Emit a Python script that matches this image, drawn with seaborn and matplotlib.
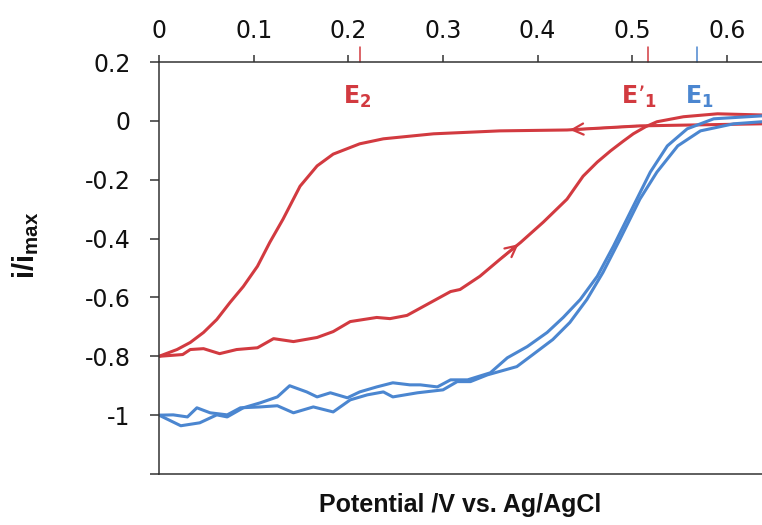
import matplotlib
matplotlib.use('Agg')
import matplotlib.pyplot as plt
import pandas as pd
import seaborn as sns

RED = '#D23A40'
BLUE = '#4B86D0'

# red curve, forward scan (lower branch, arrow up-right)
red_fwd_x = [0.0, 0.025, 0.033, 0.047, 0.064, 0.082, 0.104, 0.121, 0.142, 0.167,
             0.184, 0.202, 0.230, 0.244, 0.262, 0.283, 0.308, 0.318, 0.339, 0.360,
             0.382, 0.406, 0.431, 0.448, 0.463, 0.477, 0.490, 0.501, 0.514, 0.526,
             0.554, 0.590, 0.637, 0.66]
red_fwd_y = [-0.80, -0.794, -0.777, -0.774, -0.791, -0.777, -0.771, -0.740, -0.750, -0.736,
             -0.716, -0.682, -0.668, -0.672, -0.661, -0.624, -0.580, -0.573, -0.528, -0.471,
             -0.413, -0.344, -0.266, -0.188, -0.140, -0.102, -0.070, -0.044, -0.020, -0.003,
             0.014, 0.024, 0.020, 0.018]

# red curve, return scan (flat top, then falls at E2)
red_rev_x = [0.66, 0.637, 0.508, 0.431, 0.360, 0.290, 0.237, 0.212, 0.184, 0.167,
             0.149, 0.131, 0.117, 0.104, 0.089, 0.075, 0.061, 0.047, 0.033, 0.019, 0.0]
red_rev_y = [-0.008, -0.010, -0.017, -0.031, -0.034, -0.044, -0.061, -0.078, -0.113, -0.153,
             -0.222, -0.334, -0.413, -0.494, -0.563, -0.617, -0.675, -0.719, -0.753, -0.777, -0.80]

# blue curves (two sweeps)
blue_a_x = [0.0, 0.023, 0.043, 0.061, 0.072, 0.089, 0.107, 0.125, 0.138, 0.156,
            0.167, 0.181, 0.199, 0.212, 0.230, 0.247, 0.265, 0.276, 0.294, 0.308,
            0.326, 0.350, 0.368, 0.389, 0.410, 0.427, 0.445, 0.463, 0.480, 0.501,
            0.519, 0.537, 0.558, 0.586, 0.637, 0.66]
blue_a_y = [-1.0, -1.036, -1.026, -0.999, -1.006, -0.975, -0.958, -0.938, -0.900, -0.921,
            -0.938, -0.924, -0.941, -0.921, -0.904, -0.890, -0.897, -0.897, -0.904, -0.880,
            -0.880, -0.856, -0.805, -0.767, -0.719, -0.668, -0.607, -0.528, -0.426, -0.290,
            -0.174, -0.085, -0.027, 0.007, 0.017, 0.018]

blue_b_x = [0.0, 0.015, 0.030, 0.040, 0.054, 0.072, 0.086, 0.107, 0.125, 0.142,
            0.163, 0.184, 0.202, 0.220, 0.237, 0.247, 0.273, 0.300, 0.315, 0.329,
            0.347, 0.378, 0.395, 0.416, 0.434, 0.452, 0.469, 0.487, 0.508, 0.526,
            0.548, 0.572, 0.607, 0.637, 0.66]
blue_b_y = [-1.0, -0.999, -1.006, -0.975, -0.992, -0.999, -0.975, -0.972, -0.968, -0.992,
            -0.972, -0.989, -0.948, -0.931, -0.921, -0.938, -0.924, -0.914, -0.886, -0.886,
            -0.863, -0.835, -0.794, -0.743, -0.685, -0.607, -0.515, -0.402, -0.266, -0.174,
            -0.085, -0.034, -0.010, -0.003, 0.0]

x_ticks = [0, 0.1, 0.2, 0.3, 0.4, 0.5, 0.6]
x_ticklabels = ['0', '0.1', '0.2', '0.3', '0.4', '0.5', '0.6']
y_ticks = [0.2, 0, -0.2, -0.4, -0.6, -0.8, -1, -1.2]
y_ticklabels = ['0.2', '0', '-0.2', '-0.4', '-0.6', '-0.8', '-1', '']

# marked potentials on the top axis
e_values = [0.212, 0.517, 0.568]
e_colors = [RED, RED, BLUE]
e_labels = [r'E$_\mathregular{2}$', r'E’$_\mathregular{1}$', r'E$_\mathregular{1}$']
e_label_x = [0.1945, 0.4885, 0.556]

sns.set_style('ticks')
plt.rcParams['font.family'] = ['Liberation Sans', 'DejaVu Sans']
plt.rcParams['mathtext.default'] = 'regular'

fig = plt.figure(figsize=(7.62, 5.25), dpi=100)
ax = fig.add_axes([0.2087, 0.0971, 0.7913, 0.7848])

for xs, ys, c in [(red_fwd_x, red_fwd_y, RED), (red_rev_x, red_rev_y, RED),
                  (blue_a_x, blue_a_y, BLUE), (blue_b_x, blue_b_y, BLUE)]:
    df = pd.DataFrame({'x': xs, 'y': ys})
    sns.lineplot(data=df, x='x', y='y', sort=False, estimator=None,
                 color=c, linewidth=2.2, ax=ax)

# direction arrows along the red curve
i = red_fwd_x.index(0.382)
ax.annotate('', xy=(red_fwd_x[i], red_fwd_y[i]), xytext=(red_fwd_x[i - 1], red_fwd_y[i - 1]),
            arrowprops=dict(arrowstyle='->', color=RED, lw=1.6, mutation_scale=20))
j = red_rev_x.index(0.431)
ax.annotate('', xy=(red_rev_x[j], red_rev_y[j]), xytext=(red_rev_x[j - 1], red_rev_y[j - 1]),
            arrowprops=dict(arrowstyle='->', color=RED, lw=1.6, mutation_scale=20))

ax.set_xlim(0, 0.637)
ax.set_ylim(-1.2, 0.2)
ax.xaxis.tick_top()
ax.set_xticks(x_ticks)
ax.set_xticklabels(x_ticklabels, fontfamily='DejaVu Sans')
ax.set_yticks(y_ticks)
ax.set_yticklabels(y_ticklabels, fontfamily='DejaVu Sans')
ax.tick_params(axis='x', top=True, bottom=False, length=5, width=1.1, pad=9,
               labelsize=17, color='#333333', labelcolor='#111111')
ax.tick_params(axis='y', length=6.5, width=1.1, pad=14, labelsize=17,
               color='#333333', labelcolor='#111111')

for k in ['top', 'left', 'bottom']:
    ax.spines[k].set_linewidth(1.1)
    ax.spines[k].set_color('#333333')
ax.spines['right'].set_visible(False)

for ev, ec, el, lx in zip(e_values, e_colors, e_labels, e_label_x):
    ax.axvline(ev, ymin=1.0, ymax=1.036, color=ec, lw=1.1, clip_on=False)
    ax.text(lx, 0.058, el, color=ec, fontsize=17, fontweight='bold',
            fontfamily='DejaVu Sans', ha='left', va='baseline')

ax.xaxis.set_label_position('bottom')
ax.set_xlabel('Potential /V vs. Ag/AgCl', fontsize=18, fontweight='bold', labelpad=14,
              color='#111111')
ax.set_ylabel(r'i/i$_\mathregular{max}$', fontsize=21, fontweight='bold', color='#111111')
ax.yaxis.set_label_coords(-0.195, 0.555)

fig.savefig('out.png', dpi=100)
